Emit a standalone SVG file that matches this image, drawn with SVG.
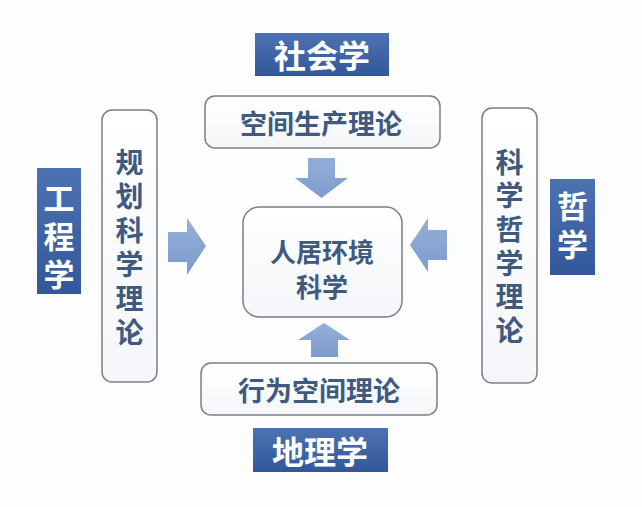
<svg xmlns="http://www.w3.org/2000/svg" width="642" height="507" viewBox="0 0 642 507">
<defs>
<linearGradient id="lbl" x1="0" y1="0" x2="0" y2="1">
<stop offset="0" stop-color="#4d72b2"/>
<stop offset="1" stop-color="#33589a"/>
</linearGradient>
<linearGradient id="arr" x1="0" y1="0" x2="0" y2="1">
<stop offset="0" stop-color="#93afd8"/>
<stop offset="1" stop-color="#7e9bcb"/>
</linearGradient>
<linearGradient id="box" x1="0" y1="0" x2="0" y2="1">
<stop offset="0" stop-color="#ffffff"/>
<stop offset="1" stop-color="#f4f6f9"/>
</linearGradient>
</defs>
<style>
.lbl{fill:url(#lbl);}
.lt{font-family:"Noto Sans CJK SC","Noto Sans",sans-serif;font-weight:bold;fill:#ffffff;text-anchor:middle;dominant-baseline:central;}
.box{fill:url(#box);stroke:#7a7f86;stroke-width:1.5;}
.bt{font-family:"Noto Sans CJK SC","Noto Sans",sans-serif;font-weight:bold;fill:#3f5a7e;text-anchor:middle;dominant-baseline:central;}
.v{writing-mode:vertical-rl;text-orientation:upright;}
.arr{fill:url(#arr);}
</style>
<rect width="642" height="507" fill="#fdfdfd"/>

<g id="label-shehuixue">
<rect class="lbl" x="255" y="33" width="134" height="43"/>
<text class="lt" x="322" y="54" font-size="32">社会学</text>
</g>
<g id="node-kongjianshengchan">
<rect class="box" x="205" y="96" width="235" height="52" rx="10"/>
<text class="bt" x="321" y="122" font-size="27">空间生产理论</text>
</g>
<g id="label-gongchengxue">
<rect class="lbl" x="37" y="168" width="44" height="126"/>
<text class="lt v" x="59" y="240" font-size="31" letter-spacing="7">工程学</text>
</g>
<g id="node-guihua">
<rect class="box" x="102" y="110" width="55" height="272" rx="10"/>
<text class="bt v" x="129.5" y="250" font-size="28" letter-spacing="6">规划科学理论</text>
</g>
<g id="node-renju">
<rect class="box" x="243" y="207" width="159" height="110" rx="16"/>
<text class="bt" x="322" y="250" font-size="26">人居环境</text>
<text class="bt" x="322" y="285" font-size="26">科学</text>
</g>
<g id="node-kexuezhexue">
<rect class="box" x="482" y="108" width="55" height="275" rx="10"/>
<text class="bt v" x="509.5" y="249" font-size="28" letter-spacing="5.6">科学哲学理论</text>
</g>
<g id="label-zhexue">
<rect class="lbl" x="550" y="179" width="45" height="96"/>
<text class="lt v" x="572.5" y="228.5" font-size="31" letter-spacing="7">哲学</text>
</g>
<g id="node-xingwei">
<rect class="box" x="201" y="363" width="236" height="52" rx="10"/>
<text class="bt" x="319" y="389" font-size="27">行为空间理论</text>
</g>
<g id="label-dilixue">
<rect class="lbl" x="253" y="428" width="135" height="44"/>
<text class="lt" x="320" y="450" font-size="32">地理学</text>
</g>

<g id="connectors">
<polygon class="arr" points="308,158 335,158 335,178 348,178 321.5,198 295,178 308,178"/>
<polygon class="arr" points="168,232 187,232 187,218 206,246 187,275 187,262 168,262"/>
<polygon class="arr" points="447,230 428,230 428,218 410,245 428,272 428,260 447,260"/>
<polygon class="arr" points="311,357 338,357 338,340 350,340 324,323 298,340 311,340"/>
</g>
</svg>
